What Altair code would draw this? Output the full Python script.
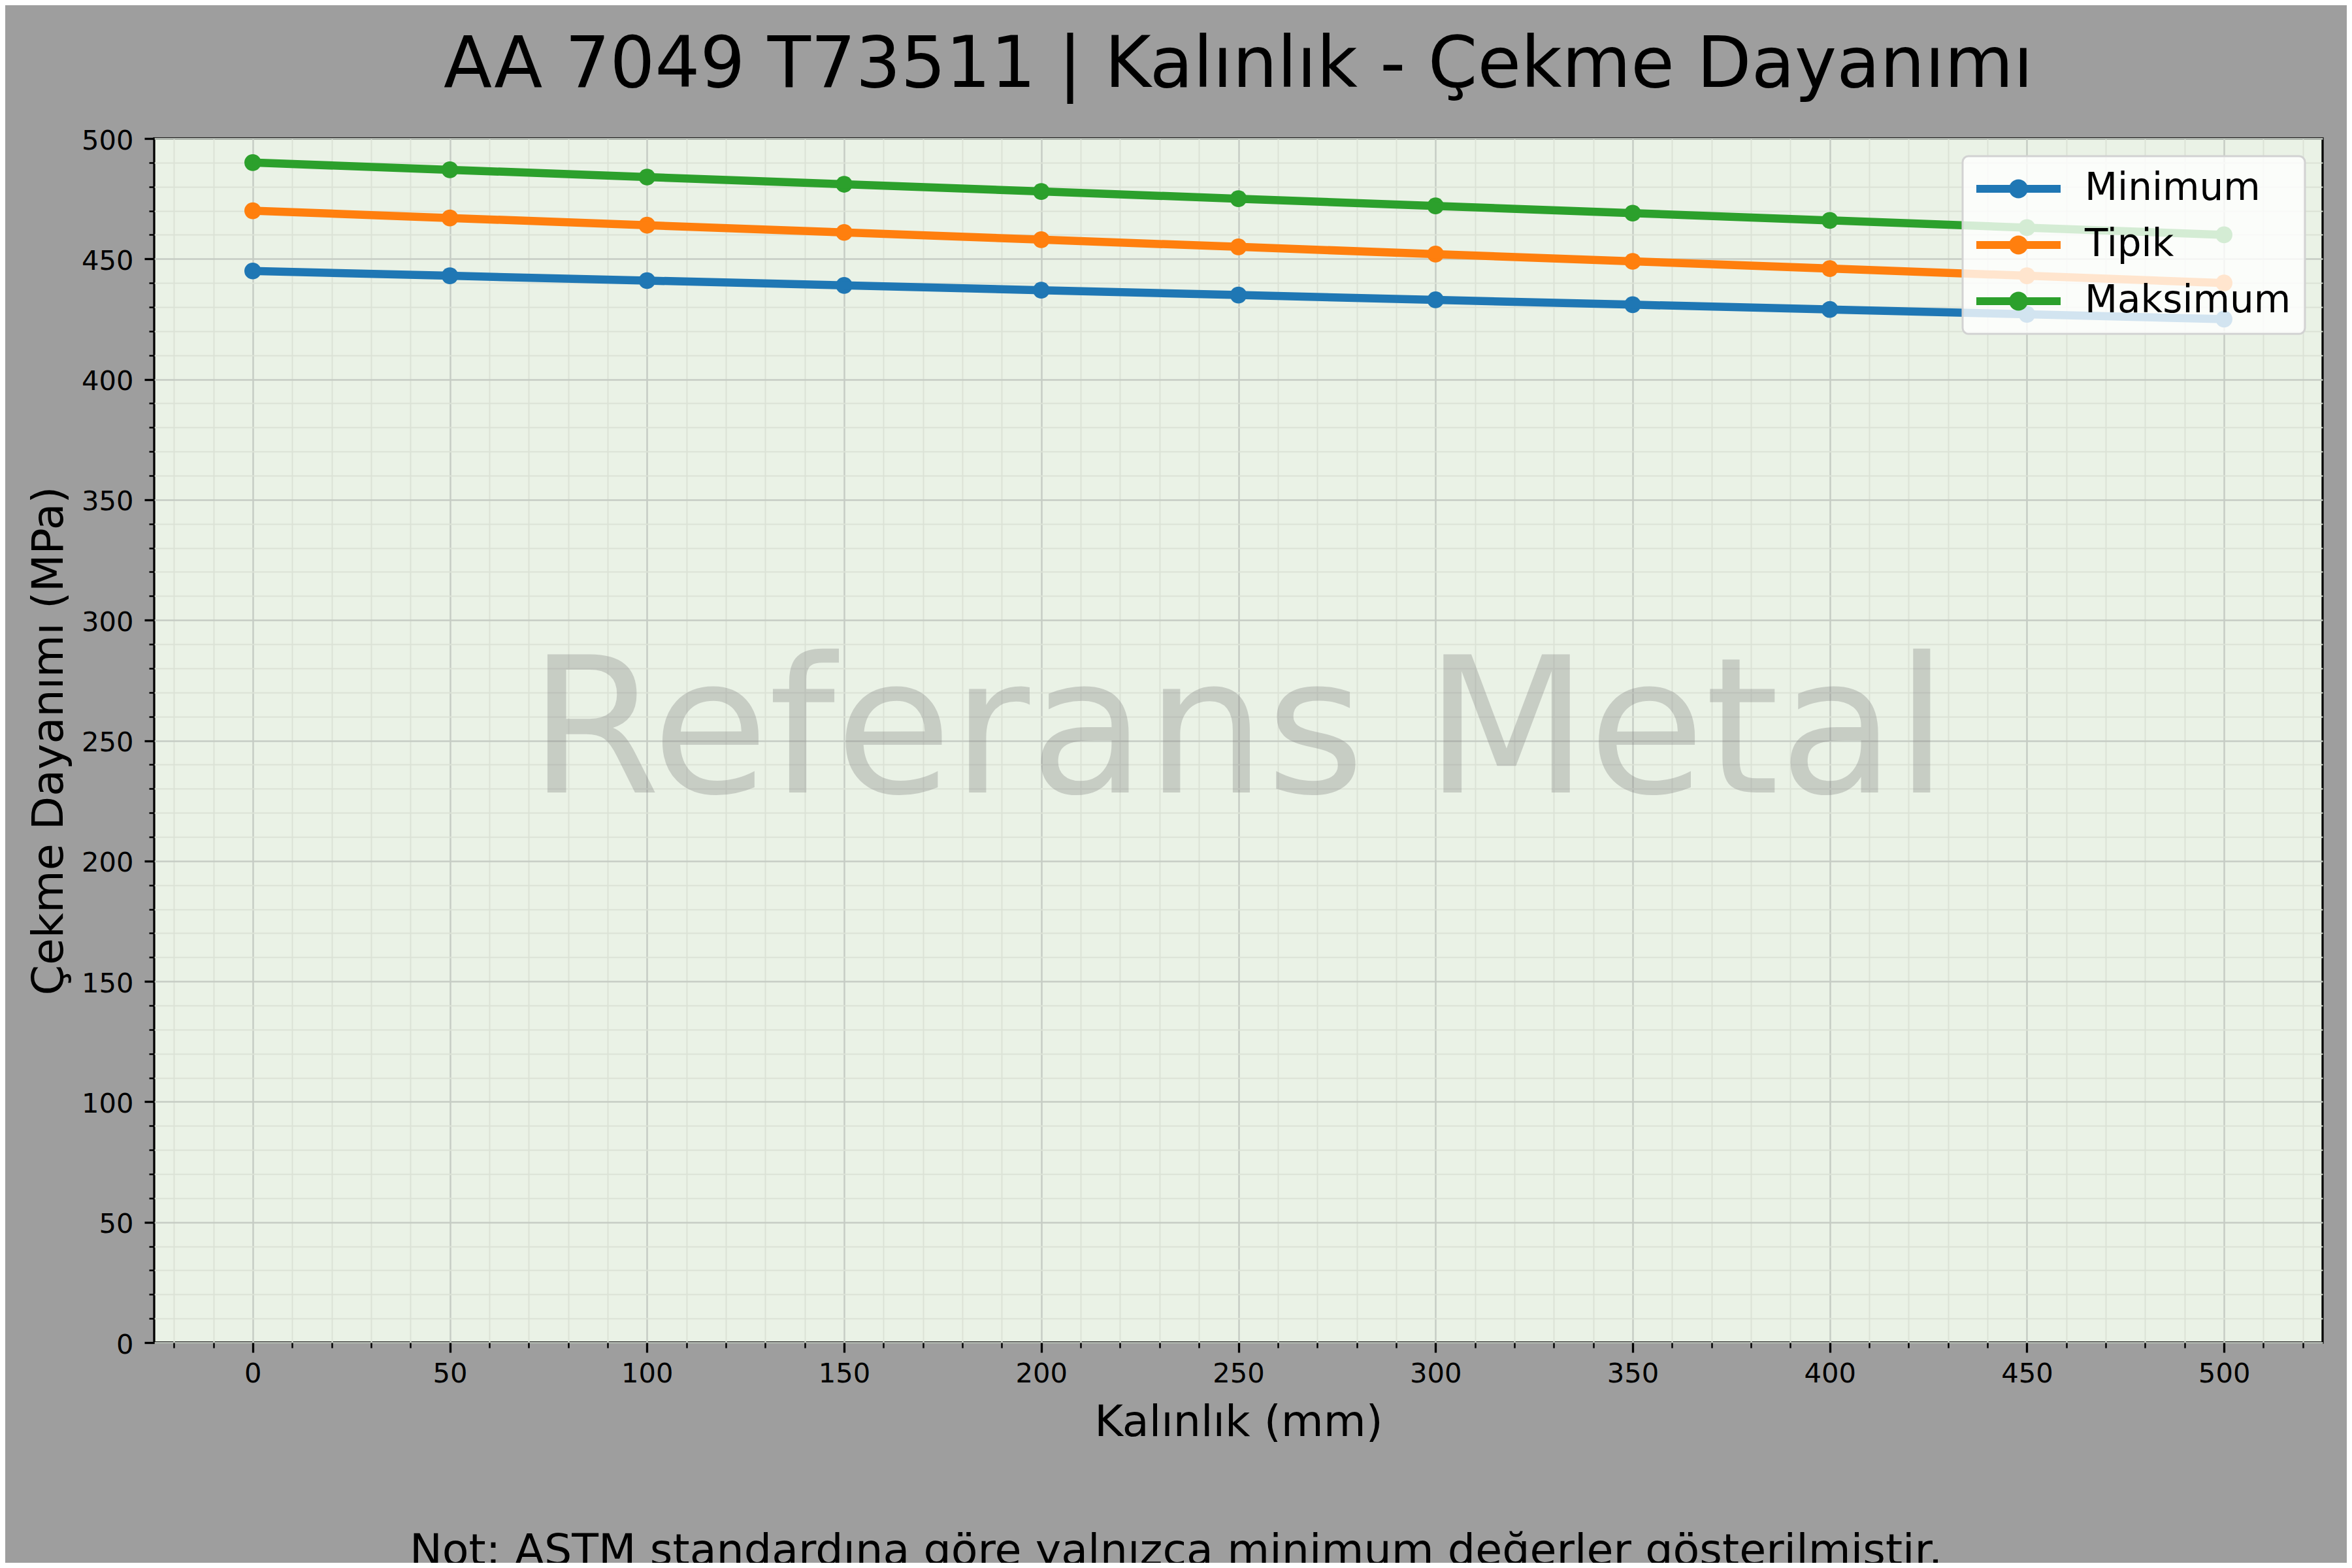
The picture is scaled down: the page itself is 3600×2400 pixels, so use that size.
import altair as alt
import pandas as pd

# ---- data ----
thickness = [0, 50, 100, 150, 200, 250, 300, 350, 400, 450, 500]
minimum = [445, 443, 441, 439, 437, 435, 433, 431, 429, 427, 425]
tipik = [470, 467, 464, 461, 458, 455, 452, 449, 446, 443, 440]
maksimum = [490, 487, 484, 481, 478, 475, 472, 469, 466, 463, 460]
series_names = ["Minimum", "Tipik", "Maksimum"]
series_colors = ["#1f77b4", "#ff7f0e", "#2ca02c"]

x_major = list(range(0, 501, 50))
x_minor = [v for v in range(-20, 530, 10) if v % 50 != 0]
y_major = list(range(0, 501, 50))
y_minor = [v for v in range(0, 501, 10) if v % 50 != 0]

title_text = "AA 7049 T73511 | Kalınlık - Çekme Dayanımı"
x_title = "Kalınlık (mm)"
y_title = "Çekme Dayanımı (MPa)"
watermark_text = "Referans Metal"
footnote_text = "Not: ASTM standardına göre yalnızca minimum değerler gösterilmiştir."

rows = []
for name, vals in zip(series_names, [minimum, tipik, maksimum]):
    for t, v in zip(thickness, vals):
        rows.append({"t": t, "v": v, "s": name})
df = pd.DataFrame(rows)

# ---- layout ----
W, H = 3319, 1843
FONT = "DejaVu Sans"
MAJOR_GRID = "#c6ccc4"
MINOR_GRID = "#dbe2d6"

xscale = alt.Scale(domain=[-25, 525], nice=False, zero=False)
yscale = alt.Scale(domain=[0, 500], nice=False, zero=False)

# legend glyph: line segment with a dot (path units: 1 = 29 px)
sym_path = ("M-2.224,-0.207H2.224V0.207H-2.224Z "
            "M0.5,0A0.5,0.5,0,1,1,-0.5,0A0.5,0.5,0,1,1,0.5,0Z")

legend = alt.Legend(
    title=None, orient="top-right", offset=27,
    symbolType=sym_path, symbolSize=58 * 58, symbolStrokeWidth=0,
    symbolOffset=35.5, symbolOpacity=1,
    labelFontSize=58, labelFont=FONT, labelColor="black", labelLimit=1000,
    labelOffset=72.5, rowPadding=28, padding=21,
    fillColor="rgba(255,255,255,0.8)", strokeColor="#d2d2d2",
    cornerRadius=9,
)

color = alt.Color("s:N", scale=alt.Scale(domain=series_names, range=series_colors),
                  sort=series_names, legend=legend)

# minor ticks / grid layer
minor_layer = alt.Chart(df).mark_point(opacity=0).encode(
    x=alt.X("t:Q", scale=xscale, axis=alt.Axis(
        values=x_minor, orient="bottom", labels=False, tickSize=8, tickWidth=2.5,
        tickColor="black", grid=True, gridColor=MINOR_GRID, gridWidth=2,
        domain=False, title=None)),
    y=alt.Y("v:Q", scale=yscale, axis=alt.Axis(
        values=y_minor, orient="left", labels=False, tickSize=8, tickWidth=2.5,
        tickColor="black", grid=True, gridColor=MINOR_GRID, gridWidth=2,
        domain=False, title=None)),
)

x_axis_major = alt.Axis(
    values=x_major, orient="bottom", tickSize=15, tickWidth=3.3, tickColor="black",
    labelFontSize=41.7, labelFont=FONT, labelPadding=12.5, labelColor="black",
    labelFlush=False, labelOverlap=False, format="d",
    grid=True, gridColor=MAJOR_GRID, gridWidth=2.5, domain=False,
    title=x_title, titleFontSize=66.7, titleFont=FONT, titleFontWeight="normal",
    titleColor="black", titleY=142, titleBaseline="alphabetic")

y_axis_major = alt.Axis(
    values=y_major, orient="left", tickSize=15, tickWidth=3.3, tickColor="black",
    labelFontSize=41.7, labelFont=FONT, labelPadding=17, labelColor="black",
    labelFlush=False, labelOverlap=False, labelOffset=3, format="d",
    grid=True, gridColor=MAJOR_GRID, gridWidth=2.5, domain=False,
    title=y_title, titleFontSize=66.7, titleFont=FONT, titleFontWeight="normal",
    titleColor="black", titleX=-141, titleAngle=270, titleBaseline="alphabetic")

# points first so the shared legend takes the filled-symbol encoding
point_layer = alt.Chart(df).mark_point(filled=True, size=660, opacity=1, strokeWidth=0).encode(
    x=alt.X("t:Q", scale=xscale, axis=x_axis_major),
    y=alt.Y("v:Q", scale=yscale, axis=y_axis_major),
    color=color,
)

line_layer = alt.Chart(df).mark_line(strokeWidth=12.5, strokeJoin="round").encode(
    x=alt.X("t:Q", scale=xscale, axis=None),
    y=alt.Y("v:Q", scale=yscale, axis=None),
    color=color,
    detail="s:N",
)

one = alt.Data(values=[{"k": 1}])

watermark_layer = alt.Chart(one).mark_text(
    fontSize=290, font=FONT, color="#808080", opacity=0.32,
    align="center", baseline="alphabetic",
).encode(
    x=alt.value(W / 2), y=alt.value(1001), text=alt.value(watermark_text)
)

footnote_layer = alt.Chart(one).mark_text(
    fontSize=66.7, font=FONT, color="black", align="center", baseline="alphabetic",
).encode(
    x=alt.value(1564), y=alt.value(2183), text=alt.value(footnote_text)
)

chart = alt.layer(
    minor_layer, watermark_layer, point_layer, line_layer, footnote_layer
).resolve_axis(
    x="independent", y="independent"
).properties(
    width=W, height=H,
    title=alt.TitleParams(text=title_text, fontSize=108.3, font=FONT,
                          fontWeight="normal", color="black", anchor="middle",
                          frame="group", offset=40),
    padding={"left": 228, "top": 204, "right": 37, "bottom": 337},
    autosize=alt.AutoSizeParams(type="none"),
).configure(
    background="#9e9e9e",
    font=FONT,
).configure_view(
    fill="#eaf2e6", stroke="black", strokeWidth=3.3,
).configure_legend(
    strokeWidth=3,
)

chart.save("out.html", embed_options={"renderer": "svg", "actions": False})
